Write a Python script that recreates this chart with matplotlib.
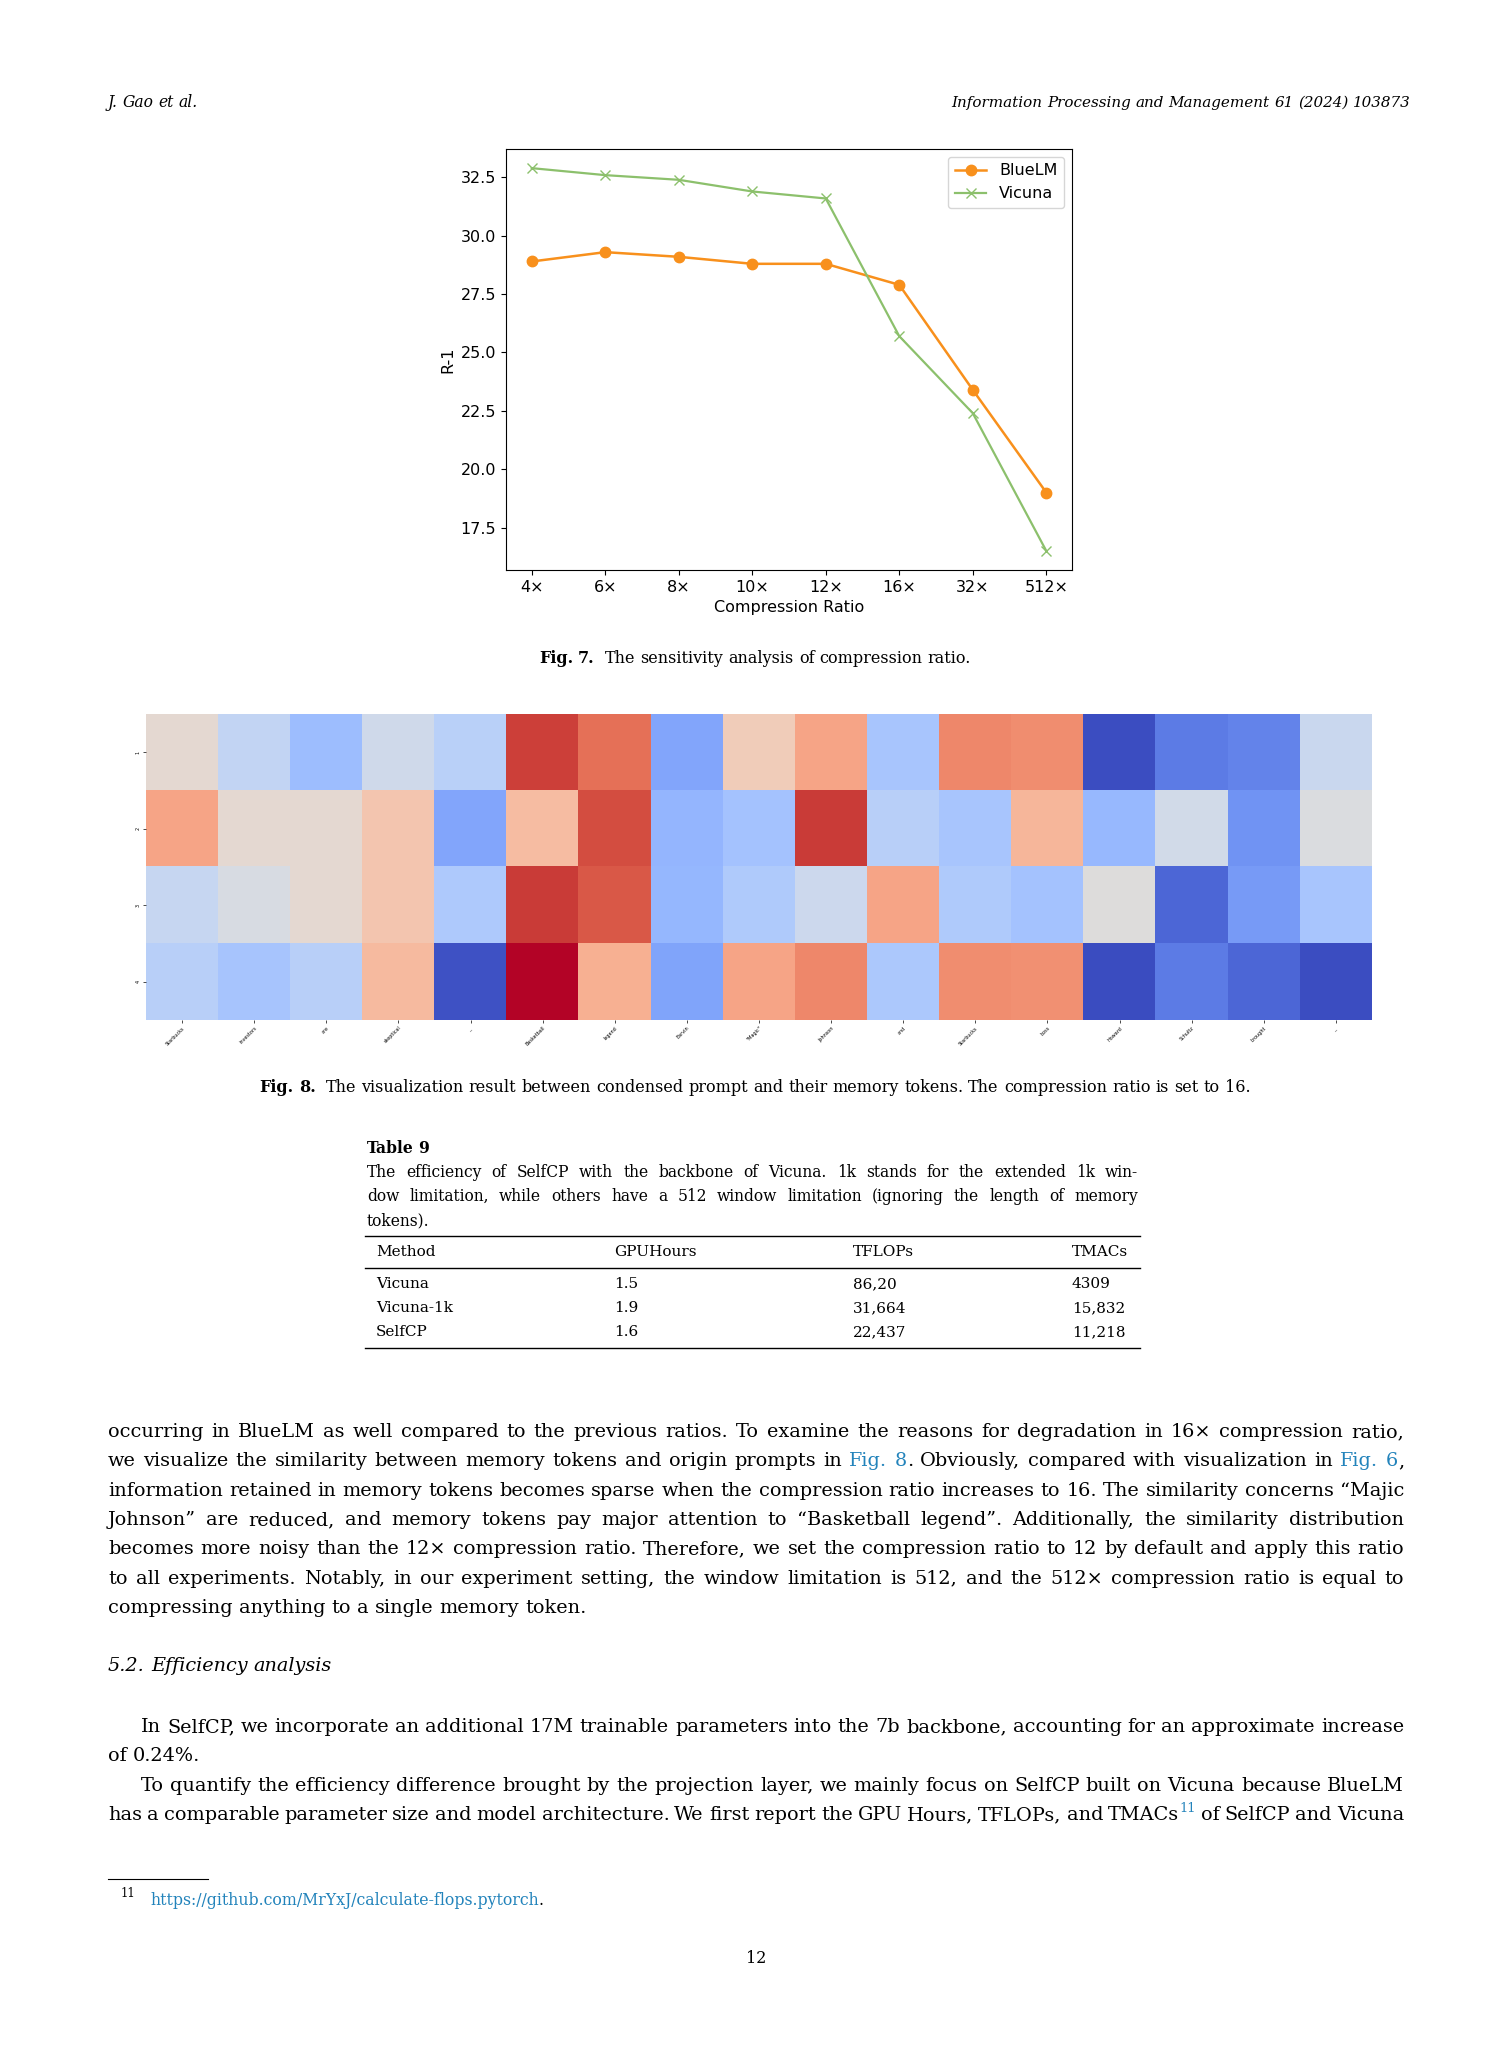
import matplotlib
matplotlib.use('Agg')
import matplotlib.pyplot as plt
from matplotlib.lines import Line2D
import numpy as np

W, H = 1512, 2063
SERIF = 'DejaVu Serif'
LINK = '#2283bb'
BOLD = {'weight': 'bold'}
SUP = {'sup': True}

# ---- Fig. 7 data ----
ratios = ['4×', '6×', '8×', '10×', '12×', '16×', '32×', '512×']
bluelm = [28.9, 29.3, 29.1, 28.8, 28.8, 27.9, 23.4, 19.0]
vicuna = [32.9, 32.6, 32.4, 31.9, 31.6, 25.7, 22.4, 16.5]

# ---- Fig. 8 data (similarity, normalised 0..1) ----
tokens = ['Starbucks', 'investors', 'are', 'skeptical', '...', 'Basketball', 'legend',
          'Earvin', '"Magic"', 'Johnson', 'and', 'Starbucks', 'boss', 'Howard',
          'Schultz', 'brought', '...']
mem_rows = ['1', '2', '3', '4']
sim_row1 = [0.53, 0.41, 0.30, 0.45, 0.38, 0.93, 0.84, 0.22, 0.59, 0.72, 0.33, 0.79, 0.78, 0.005, 0.11, 0.13, 0.43]
sim_row2 = [0.72, 0.53, 0.53, 0.62, 0.22, 0.65, 0.91, 0.27, 0.32, 0.94, 0.375, 0.33, 0.67, 0.28, 0.46, 0.17, 0.49]
sim_row3 = [0.42, 0.48, 0.53, 0.62, 0.345, 0.94, 0.89, 0.275, 0.35, 0.44, 0.72, 0.35, 0.32, 0.50, 0.06, 0.19, 0.33]
sim_row4 = [0.375, 0.325, 0.375, 0.66, 0.015, 1.00, 0.69, 0.215, 0.72, 0.79, 0.34, 0.78, 0.77, 0.0, 0.11, 0.06, 0.005]

# ---- Table 9 data ----
tab_cols = ['Method', 'GPUHours', 'TFLOPs', 'TMACs']
methods = ['Vicuna', 'Vicuna-1k', 'SelfCP']
gpu_hours = ['1.5', '1.9', '1.6']
tflops = ['86,20', '31,664', '22,437']
tmacs = ['4309', '15,832', '11,218']

fig = plt.figure(figsize=(W / 100, H / 100), dpi=100)
renderer = fig.canvas.get_renderer()


def width_of(t):
    return t.get_window_extent(renderer).width


def put_line(segs, y, x0, x1=None, size=13.9, justify=False, center=None, gap_extra=0, **kw):
    # segs: list of (text, colour) or (text, colour, opts)
    words = [[]]
    for seg in segs:
        txt, col = seg[0], seg[1]
        opts = dict(seg[2]) if len(seg) > 2 else {}
        parts = txt.split(' ')
        for i, p in enumerate(parts):
            if i > 0:
                words.append([])
            if p:
                words[-1].append((p, col, opts))
    words = [w for w in words if w]
    placed = []
    widths = []
    for w in words:
        off = 0
        items = []
        for p, col, opts in w:
            o = dict(kw)
            o.update(opts)
            sup = o.pop('sup', False)
            t = fig.text(0, 0, p, fontsize=size * 0.68 if sup else size, color=col,
                         family=SERIF, va='baseline', **o)
            items.append((t, off, sup))
            off += width_of(t)
        placed.append(items)
        widths.append(off)
    a = fig.text(0, 0, 'a a', fontsize=size, family=SERIF, **kw)
    b = fig.text(0, 0, 'aa', fontsize=size, family=SERIF, **kw)
    space = width_of(a) - width_of(b)
    a.remove()
    b.remove()
    total = sum(widths) + space * (len(words) - 1) + gap_extra
    if justify and len(words) > 1:
        gap = (x1 - x0 - sum(widths)) / (len(words) - 1)
    else:
        gap = space
    if center is not None:
        x0 = center - total / 2
    x = x0
    for k, (items, ww) in enumerate(zip(placed, widths)):
        for t, off, sup in items:
            yy = y - size * 0.55 if sup else y
            t.set_position(((x + off) / W, 1 - yy / H))
        x += ww + gap
        if k == 1:
            x += gap_extra


def hrule(x0, x1, y, lw=1.0):
    fig.add_artist(Line2D([x0 / W, x1 / W], [1 - y / H, 1 - y / H], color='black', lw=lw))


# header
put_line([('J. Gao et al.', 'black')], 107, 108, size=11.2, style='italic')
put_line([('Information Processing and Management 61 (2024) 103873', 'black')], 107, 0,
         size=10.9, style='italic', center=1406 - 225)

# ---- Fig. 7: line chart ----
ax = fig.add_axes([506 / W, 1 - 570 / H, (1072 - 506) / W, (570 - 149) / H])
xs = np.arange(len(ratios))
ax.plot(xs, bluelm, color='#f8901c', marker='o', markersize=7.5, lw=1.8, label='BlueLM')
ax.plot(xs, vicuna, color='#8cc06c', marker='x', markersize=7.5, lw=1.6, label='Vicuna')
ax.set_xticks(xs)
ax.set_xticklabels(ratios)
ax.set_xlabel('Compression Ratio', fontsize=11.5)
ax.set_ylabel('R-1', fontsize=11.5)
ax.tick_params(labelsize=11.5)
ax.legend(loc='upper right', fontsize=11.5)

put_line([('Fig. 7.', 'black', BOLD), (' The sensitivity analysis of compression ratio.', 'black')],
         663, 0, size=11.5, center=755, gap_extra=5)

# ---- Fig. 8: heatmap ----
ax2 = fig.add_axes([146 / W, 1 - 1020 / H, (1372 - 146) / W, (1020 - 714) / H])
sim = np.array([sim_row1, sim_row2, sim_row3, sim_row4])
ax2.imshow(sim, cmap='coolwarm', vmin=0, vmax=1, aspect='auto', interpolation='nearest')
ax2.set_xticks(np.arange(len(tokens)))
ax2.set_xticklabels(tokens, rotation=45, ha='right', rotation_mode='anchor', fontsize=3.5)
ax2.set_yticks(np.arange(len(mem_rows)))
ax2.set_yticklabels(mem_rows, fontsize=3.5, rotation=90, va='center')
ax2.tick_params(length=2, width=0.5, pad=2)
for s in ax2.spines.values():
    s.set_visible(False)

put_line([('Fig. 8.', 'black', BOLD),
          (' The visualization result between condensed prompt and their memory tokens. '
           'The compression ratio is set to 16.', 'black')], 1092, 0, size=11.5, center=755, gap_extra=5)

# ---- Table 9 ----
tx0, tx1 = 365, 1140
put_line([('Table 9', 'black', BOLD)], 1153, 367, size=11.2)
put_line([('The efficiency of SelfCP with the backbone of Vicuna. 1k stands for the extended 1k win-', 'black')],
         1177, 367, tx1 - 2, size=11.2, justify=True)
put_line([('dow limitation, while others have a 512 window limitation (ignoring the length of memory', 'black')],
         1201, 367, tx1 - 2, size=11.2, justify=True)
put_line([('tokens).', 'black')], 1225, 367, size=11.2)
hrule(tx0, tx1, 1236)
col_x = [376, 614, 853, 1072]
for cx, name in zip(col_x, tab_cols):
    put_line([(name, 'black')], 1256, cx, size=11)
hrule(tx0, tx1, 1268)
for i in range(len(methods)):
    yy = 1288 + 24 * i
    for cx, val in zip(col_x, [methods[i], gpu_hours[i], tflops[i], tmacs[i]]):
        put_line([(val, 'black')], yy, cx, size=11)
hrule(tx0, tx1, 1348)

# ---- body text ----
L, R = 108, 1404
body = [
    [('occurring in BlueLM as well compared to the previous ratios. To examine the reasons for degradation in 16× compression ratio,', 'black')],
    [('we visualize the similarity between memory tokens and origin prompts in ', 'black'), ('Fig. 8', LINK),
     ('. Obviously, compared with visualization in ', 'black'), ('Fig. 6', LINK), (',', 'black')],
    [('information retained in memory tokens becomes sparse when the compression ratio increases to 16. The similarity concerns “Majic', 'black')],
    [('Johnson” are reduced, and memory tokens pay major attention to “Basketball legend”. Additionally, the similarity distribution', 'black')],
    [('becomes more noisy than the 12× compression ratio. Therefore, we set the compression ratio to 12 by default and apply this ratio', 'black')],
    [('to all experiments. Notably, in our experiment setting, the window limitation is 512, and the 512× compression ratio is equal to', 'black')],
    [('compressing anything to a single memory token.', 'black')],
]
for i, segs in enumerate(body):
    put_line(segs, 1437 + 29.3 * i, L, R, justify=i < len(body) - 1)

put_line([('5.2.  Efficiency analysis', 'black')], 1671, L, style='italic')

put_line([('In SelfCP, we incorporate an additional 17M trainable parameters into the 7b backbone, accounting for an approximate increase', 'black')],
         1732, 141, R, justify=True)
put_line([('of 0.24%.', 'black')], 1761, L)
put_line([('To quantify the efficiency difference brought by the projection layer, we mainly focus on SelfCP built on Vicuna because BlueLM', 'black')],
         1791, 141, R, justify=True)
put_line([('has a comparable parameter size and model architecture. We first report the GPU Hours, TFLOPs, and TMACs', 'black'),
          ('11', LINK, SUP), (' of SelfCP and Vicuna', 'black')],
         1820, L, R, justify=True)

# footnote
hrule(108, 208, 1879, lw=0.8)
put_line([('11', 'black')], 1897, 121, size=8.5)
put_line([('https://github.com/MrYxJ/calculate-flops.pytorch', LINK), ('.', 'black')], 1905, 150, size=11.3)

put_line([('12', 'black')], 1963, 0, size=11.5, center=756)

fig.savefig('out.png', dpi=100)
